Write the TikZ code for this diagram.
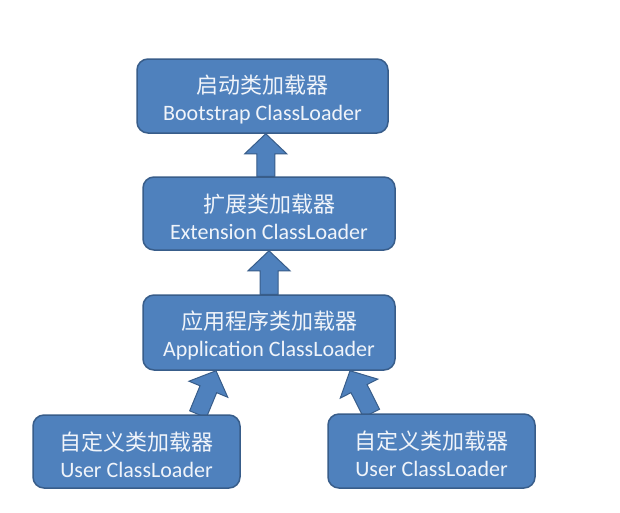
\documentclass[tikz,border=0pt]{standalone}
\usepackage{fontspec}
\setmainfont{Carlito}
\newfontfamily\cjk{Noto Sans CJK SC}
\usetikzlibrary{calc}
\pgfdeclarelayer{background}
\pgfsetlayers{background,main}
\definecolor{boxfill}{HTML}{4F81BD}
\definecolor{boxline}{HTML}{385D8A}
\definecolor{boxtext}{HTML}{F0F4FA}
\tikzset{
  loader/.style={draw=boxline, fill=boxfill, line width=1.5pt, rounded corners=11pt,
    minimum height=74pt, inner sep=0pt, align=center, text=boxtext,
    font=\fontsize{22}{27}\selectfont},
  blockarrow/.style={draw=boxline, fill=boxfill, line width=1pt, line join=miter}
}
\newcommand{\cnline}[1]{\rule{0pt}{25pt}{\cjk #1}}
\newcommand{\blockarr}[2]{%
  \coordinate (ha) at ($(#2)!20pt!(#1)$);
  \draw[blockarrow] ($(#1)!9pt!90:(#2)$) -- ($(ha)!9pt!90:(#2)$) -- ($(ha)!21pt!90:(#2)$) -- (#2)
    -- ($(ha)!21pt!-90:(#2)$) -- ($(ha)!9pt!-90:(#2)$) -- ($(#1)!9pt!-90:(#2)$) -- cycle;}
\begin{document}
\begin{tikzpicture}[x=1pt,y=-1pt]
\useasboundingbox (0,0) rectangle (620,512);
\path
  (262.5,96) node[loader, minimum width=251pt] (boot) {\cnline{启动类加载器}\\Bootstrap ClassLoader}
  (269,213.5) node[loader, minimum width=252pt, minimum height=73pt] (ext) {\cnline{扩展类加载器}\\Extension ClassLoader}
  (269,332.5) node[loader, minimum width=252pt, minimum height=75pt] (app) {\cnline{应用程序类加载器}\\Application ClassLoader}
  (136.5,451.5) node[loader, minimum width=207pt, minimum height=73pt] (usr1) {\cnline{自定义类加载器}\\User ClassLoader}
  (431.5,451) node[loader, minimum width=207pt, minimum height=74pt] (usr2) {\cnline{自定义类加载器}\\User ClassLoader};
% connector anchor points
\path (boot.south) -- (ext.north) coordinate[pos=.5] (m1);
\path (ext.south) -- (app.north) coordinate[pos=.5] (m2);
\coordinate (a1s) at (m1 |- ext.north);
\coordinate (a1e) at (m1 |- boot.south);
\coordinate (a2s) at (m2 |- app.north);
\coordinate (a2e) at (m2 |- ext.south);
\coordinate (a3s) at ($(usr1.north)+(61.5,0)$);
\coordinate (a3e) at ($(app.south)+(-53,0)$);
\coordinate (a4s) at ($(usr2.north)+(-60,0)$);
\coordinate (a4e) at ($(app.south)+(81,0)$);
\begin{pgfonlayer}{background}
\fill[white] (0,0) rectangle (620,512);
\blockarr{a1s}{a1e}
\blockarr{a2s}{a2e}
\blockarr{a3s}{a3e}
\blockarr{a4s}{a4e}
\end{pgfonlayer}
\end{tikzpicture}
\end{document}
